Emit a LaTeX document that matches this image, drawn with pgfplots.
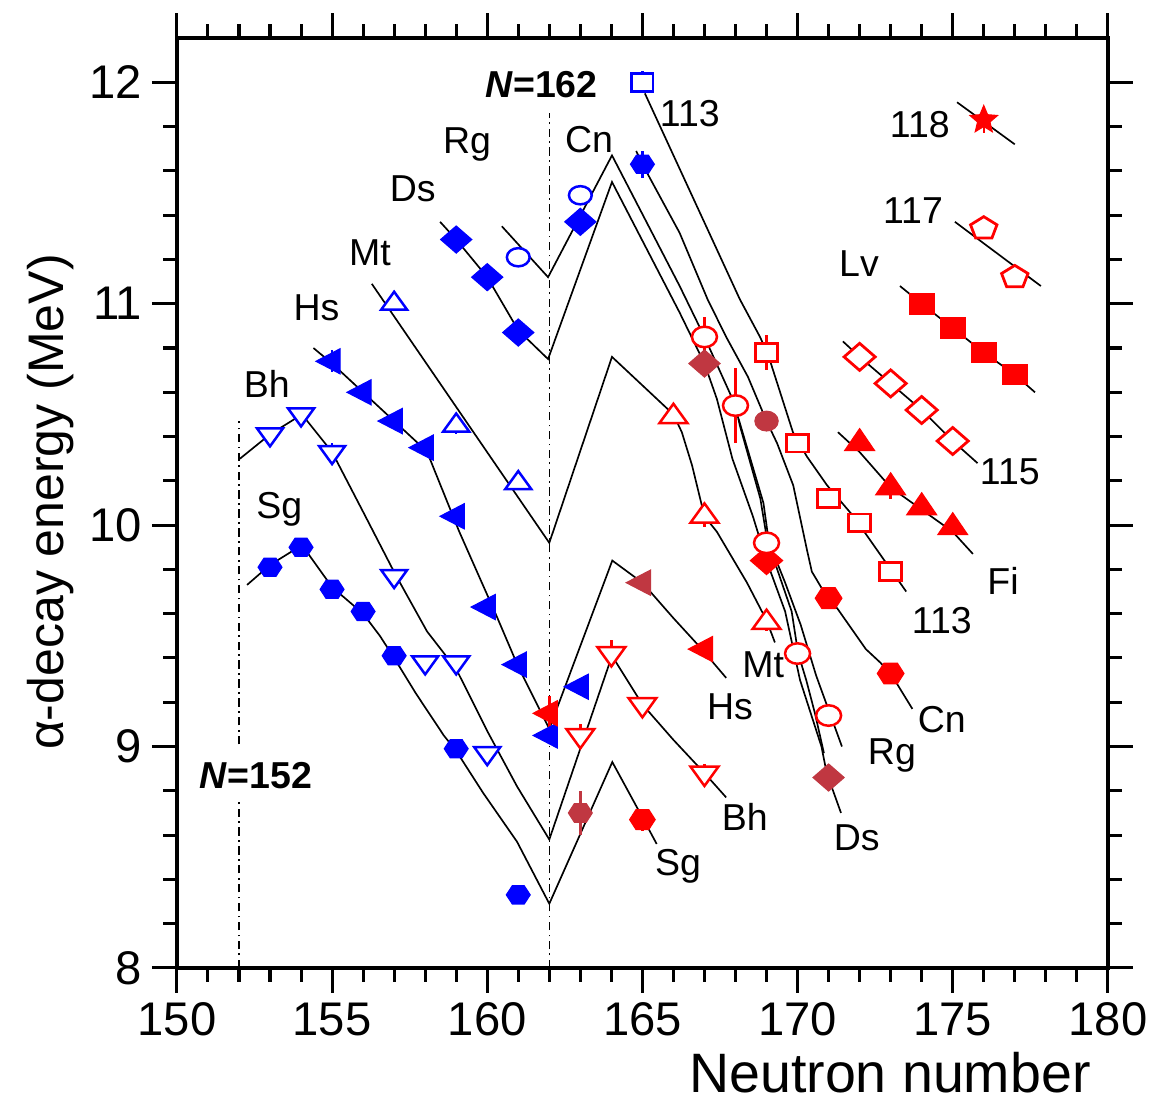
\documentclass[border=0pt]{standalone}
\usepackage{fontspec}
\setmainfont{Liberation Sans}
\usepackage{pgfplots}
\pgfplotsset{compat=1.18}
\usetikzlibrary{plotmarks}
\definecolor{mblue}{RGB}{0,0,255}
\definecolor{mred}{RGB}{255,0,0}
\definecolor{mbrown}{RGB}{192,55,65}
\newdimen\starr
\pgfdeclareplotmark{hexagon*}{%
  \pgfpathmoveto{\pgfqpointpolar{0}{\pgfplotmarksize}}%
  \pgfpathlineto{\pgfqpointpolar{60}{\pgfplotmarksize}}%
  \pgfpathlineto{\pgfqpointpolar{120}{\pgfplotmarksize}}%
  \pgfpathlineto{\pgfqpointpolar{180}{\pgfplotmarksize}}%
  \pgfpathlineto{\pgfqpointpolar{240}{\pgfplotmarksize}}%
  \pgfpathlineto{\pgfqpointpolar{300}{\pgfplotmarksize}}%
  \pgfpathclose\pgfusepathqfillstroke}
\pgfdeclareplotmark{rhomb*}{%
  \pgfpathmoveto{\pgfqpoint{\pgfplotmarksize}{0pt}}%
  \pgfpathlineto{\pgfqpoint{0pt}{0.87\pgfplotmarksize}}%
  \pgfpathlineto{\pgfqpoint{-\pgfplotmarksize}{0pt}}%
  \pgfpathlineto{\pgfqpoint{0pt}{-0.87\pgfplotmarksize}}%
  \pgfpathclose\pgfusepathqfillstroke}
\pgfdeclareplotmark{fstar*}{%
  \starr=0.45\pgfplotmarksize
  \pgfpathmoveto{\pgfqpointpolar{90}{\pgfplotmarksize}}%
  \pgfpathlineto{\pgfqpointpolar{126}{\starr}}%
  \pgfpathlineto{\pgfqpointpolar{162}{\pgfplotmarksize}}%
  \pgfpathlineto{\pgfqpointpolar{198}{\starr}}%
  \pgfpathlineto{\pgfqpointpolar{234}{\pgfplotmarksize}}%
  \pgfpathlineto{\pgfqpointpolar{270}{\starr}}%
  \pgfpathlineto{\pgfqpointpolar{306}{\pgfplotmarksize}}%
  \pgfpathlineto{\pgfqpointpolar{342}{\starr}}%
  \pgfpathlineto{\pgfqpointpolar{18}{\pgfplotmarksize}}%
  \pgfpathlineto{\pgfqpointpolar{54}{\starr}}%
  \pgfpathclose\pgfusepathqfillstroke}
\pgfplotsset{
  curve/.style={black, line width=0.6pt, no markers, forget plot},
  ddot/.style={black, line width=0.5pt, no markers, forget plot, dash pattern=on 3pt off 1.6pt on 0.6pt off 1.6pt},
  pts/.style={only marks, forget plot, error bars/y dir=both, error bars/y explicit, error bars/error mark=none, error bars/error bar style={line width=0.9pt}},
}
\newcommand{\lab}{\fontsize{13.5}{14}\selectfont}
\begin{document}
\begin{tikzpicture}
\path[use as bounding box] (-63.7pt,-48.6pt) rectangle (351.8pt,348.5pt);
\begin{axis}[
  at={(0pt,0pt)}, anchor=south west,
  scale only axis, width=335.2pt, height=334.8pt,
  xmin=150, xmax=180, ymin=8, ymax=12.2,
  xtick={150,155,...,180}, ytick={8,9,...,12},
  minor x tick num=4, minor y tick num=4,
  tick pos=both, xticklabel pos=lower, yticklabel pos=left,
  tick align=outside,
  major tick length=9pt, minor tick length=5pt,
  axis line style={line width=1.4pt},
  every tick/.style={line width=1.1pt, black},
  tick label style={font=\fontsize{17}{17}\selectfont},
  /pgf/number format/assume math mode=true,
  xlabel={Neutron number}, ylabel={α-decay energy (MeV)},
  xlabel style={at={(axis description cs:0.992,-0.134)}, anchor=base east, font=\fontsize{20}{20}\selectfont},
  ylabel style={at={(axis description cs:-0.136,0.501)}, anchor=center, font=\fontsize{18}{18}\selectfont},
  clip=false,
]
% theoretical curves
\addplot[curve] coordinates {(152.26,9.73)(153,9.82)(154.03,9.91)(155,9.72)(156,9.60)(156.54,9.50)(157,9.40)(157.7,9.24)(158.6,9.05)(159,8.98)(159.87,8.79)(160.96,8.57)(162,8.29)(164.03,8.93)(165,8.68)(165.46,8.56)};
\addplot[curve] coordinates {(152.03,10.30)(153,10.41)(154.03,10.50)(155,10.33)(156,10.06)(157.03,9.78)(158.06,9.52)(159,9.35)(160,9.07)(160.96,8.82)(162,8.58)(164.02,9.41)(165,9.19)(166,9.03)(167,8.88)(167.7,8.77)};
\addplot[curve] coordinates {(154.4,10.80)(155,10.73)(156,10.60)(157,10.47)(158,10.34)(158.15,10.30)(159.1,9.97)(160.3,9.59)(161,9.36)(162,9.08)(164.03,9.84)(165,9.74)(166,9.58)(166.85,9.45)(167.7,9.31)};
\addplot[curve] coordinates {(156.28,11.09)(162,9.92)(164.02,10.76)(166,10.50)(166.27,10.42)(166.6,10.27)(167,10.04)(167.4,9.97)(168.37,9.74)(169,9.57)(169.27,9.47)};
\addplot[curve] coordinates {(158.48,11.37)(159,11.29)(160,11.12)(161,10.88)(161.96,10.75)(164.02,11.55)(166.2,10.96)(167,10.73)(167.4,10.57)(167.9,10.30)(168.56,10.04)(169,9.84)(169.6,9.61)(170.08,9.30)(170.77,9.0)(170.94,8.88)(171.4,8.70)};
\addplot[curve] coordinates {(168.1,10.48)(168.9,10.10)(169.1,9.90)(169.81,9.61)(170.02,9.42)(170.28,9.30)(170.56,9.15)(170.85,8.97)};
\addplot[curve] coordinates {(160.47,11.35)(161.96,11.12)(164.02,11.67)(166.2,11.08)(167,10.85)(168,10.54)(168.14,10.45)(168.8,10.12)(169,9.95)(169.6,9.74)(170.1,9.55)(170.6,9.32)(171.04,9.15)(171.43,9.0)};
\addplot[curve] coordinates {(164.8,11.69)(165,11.63)(166.2,11.32)(167.1,11.02)(167.7,10.85)(168.4,10.67)(169,10.47)(169.34,10.37)(169.86,10.18)(170.3,9.89)(170.46,9.79)(170.8,9.71)(171,9.67)(171.3,9.62)(172.2,9.44)(172.66,9.38)(173,9.33)(173.7,9.17)};
\addplot[curve] coordinates {(165.08,11.95)(168.14,11.02)(168.79,10.85)(169.05,10.77)(169.85,10.42)(170.3,10.31)(170.95,10.18)(171.8,10.04)(173.5,9.70)};
\addplot[curve] coordinates {(171.3,10.42)(172,10.33)(173,10.17)(174,10.07)(175,9.97)(175.65,9.87)};
\addplot[curve] coordinates {(171.46,10.83)(172,10.76)(173,10.64)(174,10.52)(175,10.38)(175.8,10.28)};
\addplot[curve] coordinates {(173.3,11.08)(174,11.0)(175,10.89)(176,10.78)(177,10.68)(177.65,10.60)};
\addplot[curve] coordinates {(175.07,11.37)(177.84,11.08)};
\addplot[curve] coordinates {(175.14,11.91)(177.0,11.72)};
% shell closures
\addplot[ddot] coordinates {(152,8)(152,8.76)};
\addplot[ddot] coordinates {(152,9.01)(152,10.47)};
\addplot[ddot] coordinates {(162,8)(162,11.86)};
% ---- blue (known) data
\addplot[pts, mblue, mark=hexagon*, mark size=4.3pt, mark options={fill=mblue, yscale=0.88}] coordinates {(153,9.81)(154,9.90)(155,9.71)(156,9.61)(157,9.41)(159,8.99)(161,8.33)};
\addplot[pts, mblue, mark=triangle*, mark size=5.4pt, mark options={fill=white, line width=0.9pt, yscale=0.8, rotate=180}] coordinates {(153,10.41)+-(0,0.03)(154,10.50)+-(0,0.03)(155,10.33)+-(0,0.04)(157,9.77)+-(0,0)(158,9.38)+-(0,0.03)(159,9.38)+-(0,0.03)(160,8.97)+-(0,0.03)};
\addplot[pts, mblue, mark=triangle*, mark size=5.8pt, mark options={fill=mblue, yscale=0.9, rotate=90}] coordinates {(155,10.74)+-(0,0.05)(156,10.60)+-(0,0)(157,10.47)+-(0,0)(158,10.35)+-(0,0)(159,10.04)+-(0,0)(160,9.63)+-(0,0)(161,9.37)+-(0,0)(162,9.05)+-(0,0)(163,9.27)+-(0,0)};
\addplot[pts, mblue, mark=triangle*, mark size=5.4pt, mark options={fill=white, line width=0.9pt, yscale=0.8}] coordinates {(157,11.0)+-(0,0)(159,10.45)+-(0,0.04)(161,10.19)+-(0,0)};
\addplot[pts, mblue, mark=rhomb*, mark size=5.6pt, mark options={fill=mblue}] coordinates {(159,11.29)(160,11.12)(161,10.87)(163,11.37)};
\addplot[pts, mblue, mark=*, mark size=4.1pt, mark options={fill=white, line width=0.9pt, yscale=0.8}] coordinates {(161,11.21)(163,11.49)};
\addplot[pts, mblue, mark=hexagon*, mark size=4.3pt, mark options={fill=mblue, yscale=0.88}] coordinates {(165,11.63)+-(0,0.06)};
\addplot[pts, mblue, mark=square*, mark size=3.8pt, mark options={fill=white, line width=1pt, yscale=0.85}] coordinates {(165,12.0)+-(0,0.05)};
% ---- red (new) data
\addplot[pts, mred, mark=triangle*, mark size=5.8pt, mark options={fill=mred, yscale=0.9, rotate=90}] coordinates {(162,9.15)+-(0,0.08)(167,9.44)+-(0,0)};
\addplot[pts, mbrown, mark=hexagon*, mark size=4.3pt, mark options={fill=mbrown, yscale=0.9}] coordinates {(163,8.70)+-(0,0.1)};
\addplot[pts, mred, mark=hexagon*, mark size=4.6pt, mark options={fill=mred, yscale=0.9}] coordinates {(165,8.67)+-(0,0.05)};
\addplot[pts, mred, mark=triangle*, mark size=5.8pt, mark options={fill=white, line width=0.9pt, yscale=0.8, rotate=180}] coordinates {(163,9.05)+-(0,0.05)(164,9.42)+-(0,0.06)(165,9.19)+-(0,0.03)(167,8.88)+-(0,0.04)};
\addplot[pts, mbrown, mark=triangle*, mark size=5.8pt, mark options={fill=mbrown, yscale=0.9, rotate=90}] coordinates {(165,9.74)};
\addplot[pts, mred, mark=triangle*, mark size=5.8pt, mark options={fill=white, line width=0.9pt, yscale=0.8}] coordinates {(166,10.49)+-(0,0.03)(167,10.04)+-(0,0.05)(169,9.56)+-(0,0.04)};
\addplot[pts, mbrown, mark=rhomb*, mark size=5.6pt, mark options={fill=mbrown}] coordinates {(167,10.73)(171,8.86)};
\addplot[pts, mred, mark=rhomb*, mark size=5.8pt, mark options={fill=mred}] coordinates {(169,9.84)};
\addplot[pts, mred, mark=*, mark size=4.5pt, mark options={fill=white, line width=0.9pt, yscale=0.82}] coordinates {(167,10.85)+-(0,0.09)(168,10.54)+-(0,0.17)(169,9.92)+-(0,0)(170,9.42)+-(0,0)(171,9.14)+-(0,0)};
\addplot[pts, mbrown, mark=*, mark size=4.2pt, mark options={fill=mbrown, yscale=0.85}] coordinates {(169,10.47)};
\addplot[pts, mred, mark=hexagon*, mark size=4.8pt, mark options={fill=mred, yscale=0.9}] coordinates {(171,9.67)(173,9.33)};
\addplot[pts, mred, mark=square*, mark size=3.9pt, mark options={fill=white, line width=1pt, yscale=0.82}] coordinates {(169,10.78)+-(0,0.08)(170,10.37)+-(0,0)(171,10.12)+-(0,0)(172,10.01)+-(0,0.03)(173,9.79)+-(0,0.03)};
\addplot[pts, mred, mark=triangle*, mark size=6.2pt, mark options={fill=mred, yscale=0.85}] coordinates {(172,10.37)+-(0,0)(173,10.17)+-(0,0.05)(174,10.08)+-(0,0)(175,9.99)+-(0,0)};
\addplot[pts, mred, mark=rhomb*, mark size=5.6pt, mark options={fill=white, line width=1pt}] coordinates {(172,10.76)(173,10.64)(174,10.52)(175,10.38)};
\addplot[pts, mred, mark=square*, mark size=4.5pt, mark options={fill=mred, yscale=0.82}] coordinates {(174,11.0)+-(0,0.05)(175,10.89)+-(0,0.05)(176,10.78)+-(0,0)(177,10.68)+-(0,0)};
\addplot[pts, mred, mark=pentagon*, mark size=5pt, mark options={fill=white, line width=1pt, yscale=0.85}] coordinates {(176,11.34)+-(0,0)(177,11.12)+-(0,0.05)};
\addplot[pts, mred, mark=fstar*, mark size=5.2pt, mark options={fill=mred}] coordinates {(176,11.83)+-(0,0.06)};
% labels
\node[font=\lab] at (axis cs:153.3,10.07) {Sg};
\node[font=\lab] at (axis cs:152.9,10.64) {Bh};
\node[font=\lab] at (axis cs:154.5,10.98) {Hs};
\node[font=\lab] at (axis cs:156.22,11.23) {Mt};
\node[font=\lab] at (axis cs:157.6,11.52) {Ds};
\node[font=\lab] at (axis cs:159.35,11.72) {Rg};
\node[font=\lab] at (axis cs:163.28,11.74) {Cn};
\node[font=\lab\bfseries] at (axis cs:161.75,11.99) {\textit{N}=162};
\node[font=\lab\bfseries] at (axis cs:152.55,8.87) {\textit{N}=152};
\node[font=\lab] at (axis cs:166.53,11.86) {113};
\node[font=\lab] at (axis cs:173.94,11.81) {118};
\node[font=\lab] at (axis cs:173.72,11.42) {117};
\node[font=\lab] at (axis cs:171.98,11.18) {Lv};
\node[font=\lab] at (axis cs:176.84,10.24) {115};
\node[font=\lab] at (axis cs:176.62,9.75) {Fi};
\node[font=\lab] at (axis cs:174.65,9.57) {113};
\node[font=\lab] at (axis cs:174.65,9.12) {Cn};
\node[font=\lab] at (axis cs:173.04,8.96) {Rg};
\node[font=\lab] at (axis cs:171.91,8.59) {Ds};
\node[font=\lab] at (axis cs:168.89,9.37) {Mt};
\node[font=\lab] at (axis cs:167.82,9.18) {Hs};
\node[font=\lab] at (axis cs:168.3,8.68) {Bh};
\node[font=\lab] at (axis cs:166.15,8.46) {Sg};
\end{axis}
\end{tikzpicture}
\end{document}
